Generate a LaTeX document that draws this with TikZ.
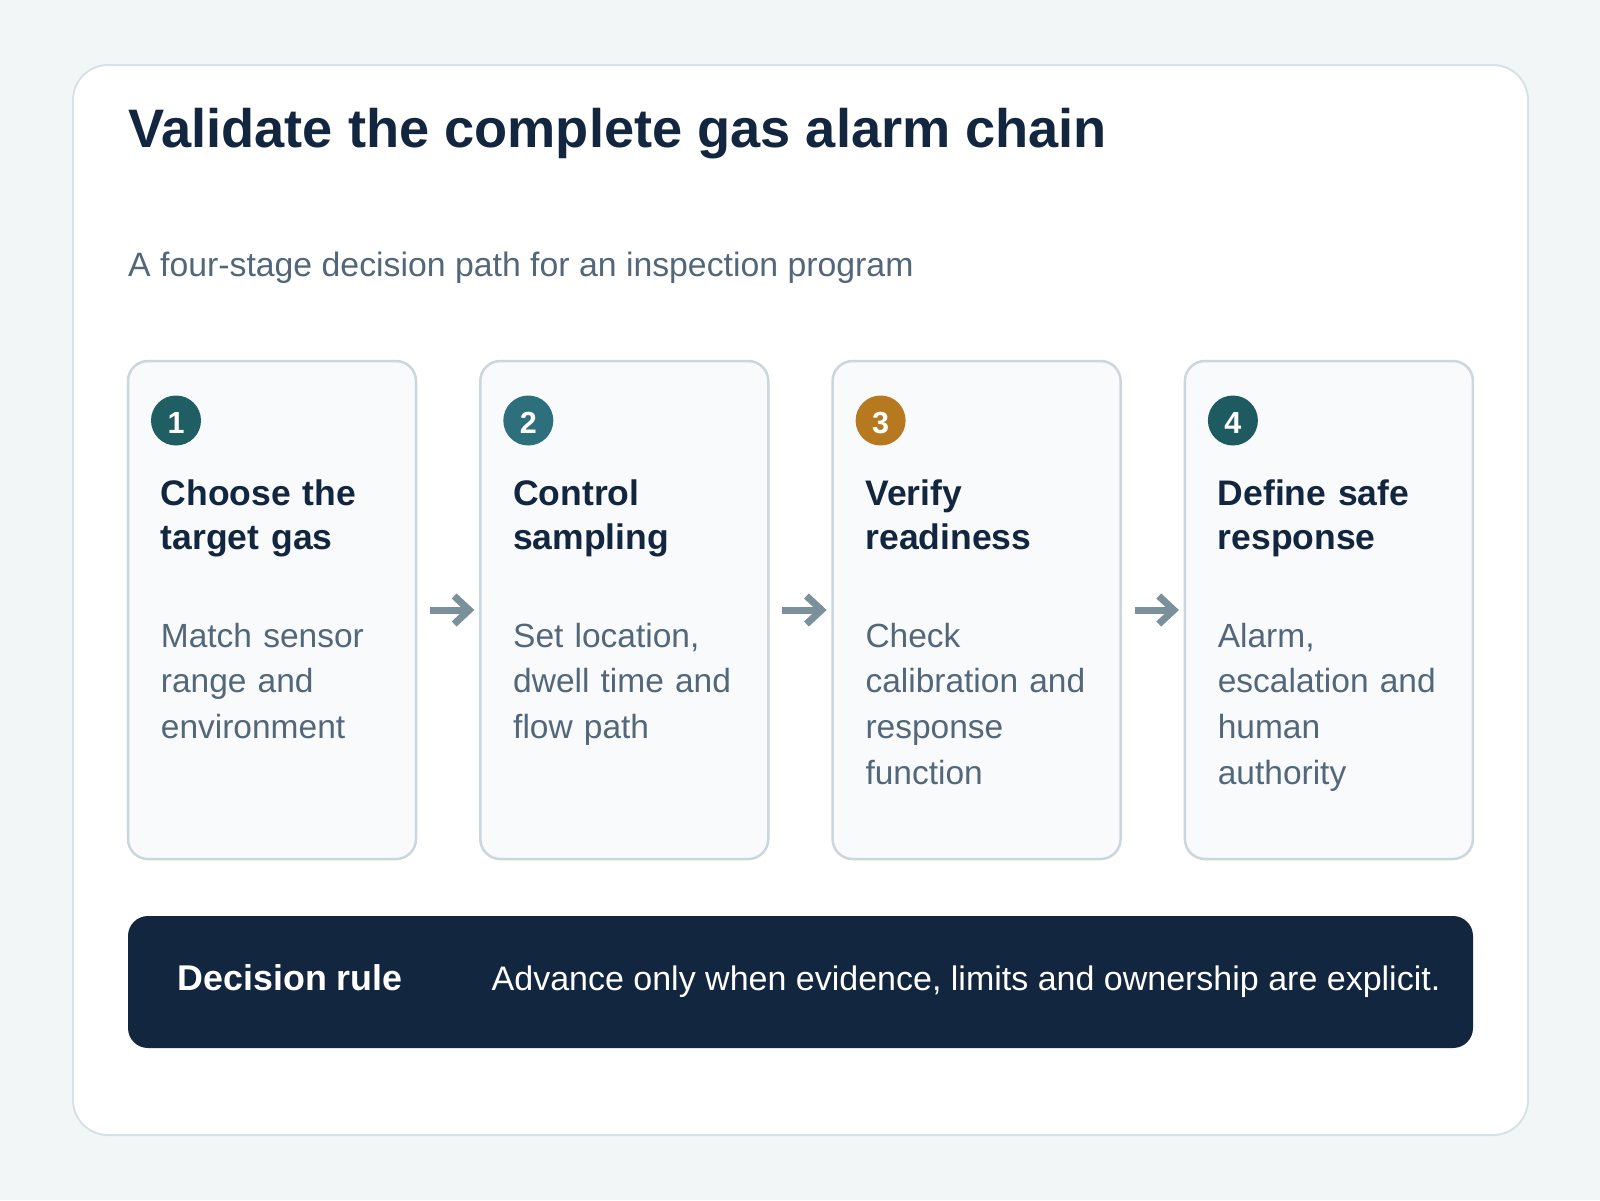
\documentclass[tikz,border=0pt]{standalone}
\usepackage{fontspec}
\setmainfont{Liberation Sans}
\usetikzlibrary{positioning,arrows.meta}
\definecolor{bg}{HTML}{F3F6F7}
\definecolor{frameline}{HTML}{D8E1E6}
\definecolor{navy}{HTML}{13263F}
\definecolor{slate}{HTML}{53677A}
\definecolor{cardfill}{HTML}{F8FAFB}
\definecolor{cardline}{HTML}{CBD7DD}
\definecolor{arrowc}{HTML}{7A909B}
\definecolor{tealA}{HTML}{1F5E62}
\definecolor{tealB}{HTML}{2E6F7E}
\definecolor{amber}{HTML}{B7791F}
\definecolor{tealD}{HTML}{1D5B60}
\newcommand{\stg}[5]{\node[badge,fill=#2] (#1n) at ([shift={(48,59.5)}]#1.north west) {#3};
  \node[head] (#1h) at ([shift={(32.7,144.5)}]#1.north west) {#4};
  \node[body] (#1b) at ([shift={(32.7,286)}]#1.north west) {#5}; }

\begin{document}
\begin{tikzpicture}[x=1pt,y=-1pt,node distance=64.3pt,
  card/.style={draw=cardline,fill=cardfill,line width=2.5pt,rounded corners=20pt,minimum width=288pt,minimum height=498pt,inner sep=0pt,outer sep=0pt},
  badge/.style={circle,minimum size=50pt,inner sep=0pt,text height=26.5pt,text depth=0pt,text=white,font=\fontsize{30.5}{30}\selectfont\bfseries},
  head/.style={anchor=base west,inner sep=0pt,text width=250pt,align=left,text=navy,font=\fontsize{35.5}{44}\selectfont\bfseries},
  body/.style={anchor=base west,inner sep=0pt,text width=250pt,align=left,text=slate,font=\fontsize{33.5}{45.7}\selectfont},
  flow/.style={draw=arrowc,line width=7pt,-{Straight Barb[length=15pt,width=28pt]},shorten <=14pt,shorten >=6pt}]
  \fill[bg] (0,0) rectangle (1600,1200);
  \draw[frameline,fill=white,line width=2pt,rounded corners=35pt] (73,65) rectangle (1528,1135);
  \node[anchor=base west,inner sep=0pt,text=navy,font=\fontsize{54.2}{60}\selectfont\bfseries] (title) at (128,147.3) {Validate the complete gas alarm chain};
  \node[anchor=base west,inner sep=0pt,text=slate,font=\fontsize{33.8}{40}\selectfont] (sub) at (128,276.7) {A four-stage decision path for an inspection program};
  \node[card] (c1) at (272,610) {};
  \node[card] (c2) [right=of c1] {};
  \node[card] (c3) [right=of c2] {};
  \node[card] (c4) [right=of c3] {};
  \stg{c1}{tealA}{1}{Choose the\\target gas}{Match sensor\\range and\\environment}
  \stg{c2}{tealB}{2}{Control\\sampling}{Set location,\\dwell time and\\flow path}
  \stg{c3}{amber}{3}{Verify\\readiness}{Check\\calibration and\\response\\function}
  \stg{c4}{tealD}{4}{Define safe\\response}{Alarm,\\escalation and\\human\\authority}
  \draw[flow] (c1) -- (c2);
  \draw[flow] (c2) -- (c3);
  \draw[flow] (c3) -- (c4);
  \node[fill=navy,rounded corners=20pt,minimum width=1345pt,minimum height=132pt,inner sep=0pt] (rule) at (800.5,982) {};
  \node[anchor=base west,inner sep=0pt,text=white,font=\fontsize{35.8}{40}\selectfont\bfseries] (rh) at ([shift={(49.7,8)}]rule.west) {Decision rule};
  \node[anchor=base west,inner sep=0pt,text=white,font=\fontsize{34}{40}\selectfont] (rt) at ([shift={(363.7,8)}]rule.west) {Advance only when evidence, limits and ownership are explicit.};
\end{tikzpicture}
\end{document}
